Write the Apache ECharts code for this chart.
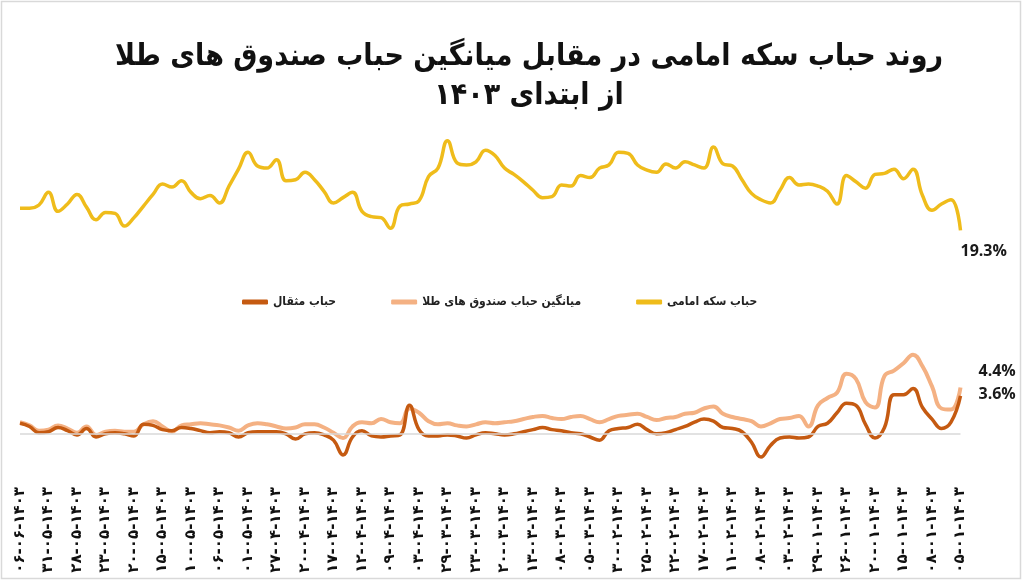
<!DOCTYPE html>
<html>
<head>
<meta charset="utf-8">
<script src="https://cdn.jsdelivr.net/npm/echarts@6/dist/echarts.min.js"></script>
<style>html,body{margin:0;padding:0;background:#fff}#c{width:1024px;height:582px}</style>
</head>
<body>
<div id="c"></div>
<script>
// Tick labels (every third trading day), left to right as displayed
const tickLabels = ['۰۶-۰۶-۱۴۰۳','۳۱-۰۵-۱۴۰۳','۲۸-۰۵-۱۴۰۳','۲۳-۰۵-۱۴۰۳','۲۰-۰۵-۱۴۰۳','۱۵-۰۵-۱۴۰۳','۱۰-۰۵-۱۴۰۳','۰۶-۰۵-۱۴۰۳','۰۱-۰۵-۱۴۰۳','۲۷-۰۴-۱۴۰۳','۲۰-۰۴-۱۴۰۳','۱۷-۰۴-۱۴۰۳','۱۲-۰۴-۱۴۰۳','۰۹-۰۴-۱۴۰۳','۰۳-۰۴-۱۴۰۳','۲۹-۰۳-۱۴۰۳','۲۳-۰۳-۱۴۰۳','۲۰-۰۳-۱۴۰۳','۱۳-۰۳-۱۴۰۳','۰۸-۰۳-۱۴۰۳','۰۵-۰۳-۱۴۰۳','۳۰-۰۲-۱۴۰۳','۲۵-۰۲-۱۴۰۳','۲۲-۰۲-۱۴۰۳','۱۷-۰۲-۱۴۰۳','۱۱-۰۲-۱۴۰۳','۰۸-۰۲-۱۴۰۳','۰۳-۰۲-۱۴۰۳','۲۹-۰۱-۱۴۰۳','۲۶-۰۱-۱۴۰۳','۲۰-۰۱-۱۴۰۳','۱۵-۰۱-۱۴۰۳','۰۸-۰۱-۱۴۰۳','۰۵-۰۱-۱۴۰۳'];

const seriesNames = ['حباب سکه امامی','میانگین حباب صندوق های طلا','حباب مثقال'];

// حباب سکه امامی (%)
const coinBubble = [21.4,21.4,21.7,22.9,21.1,21.8,22.7,21.5,20.3,21.0,20.9,19.7,20.5,21.6,22.7,23.7,23.4,24.0,22.9,22.3,22.6,21.9,23.5,25.1,26.7,25.4,25.2,26.0,24.0,24.1,24.8,24.1,23.0,21.9,22.4,22.9,21.1,20.6,20.5,19.5,21.6,21.8,22.1,24.4,25.2,27.8,25.7,25.5,25.8,26.9,26.4,25.2,24.6,23.9,23.1,22.4,22.5,23.6,23.5,24.5,24.3,25.2,25.5,26.7,26.6,25.5,25.0,24.8,25.6,25.2,25.8,25.5,25.2,27.2,25.6,25.4,24.1,22.8,22.2,21.9,23.1,24.3,23.6,23.7,23.5,23.0,21.8,24.5,23.9,23.3,24.6,24.7,25.1,24.2,25.1,22.6,21.2,21.8,22.2,19.3];

// میانگین حباب صندوق های طلا (%)
const fundBubble = [1.1,0.8,0.3,0.4,0.8,0.5,0.1,0.7,-0.1,0.2,0.3,0.2,0.2,0.9,1.2,0.7,0.2,0.8,0.9,1.0,0.9,0.8,0.6,0.3,0.8,1.0,0.9,0.7,0.5,0.6,0.9,0.9,0.6,0.1,-0.4,0.7,1.1,1.0,1.4,1.1,1.0,2.4,2.0,1.2,0.9,1.0,0.8,0.7,0.9,1.1,1.0,1.1,1.2,1.4,1.6,1.7,1.5,1.4,1.6,1.7,1.4,1.1,1.4,1.7,1.8,1.9,1.6,1.3,1.5,1.6,1.9,2.0,2.4,2.6,1.9,1.6,1.4,1.2,0.7,1.0,1.4,1.5,1.7,0.7,2.7,3.4,3.9,5.7,5.2,3.0,2.5,5.5,6.0,6.7,7.5,6.4,4.5,2.4,2.3,4.4];

// حباب مثقال (%)
const mesghalBubble = [1.0,0.7,0.1,0.2,0.6,0.3,-0.1,0.5,-0.3,0.0,0.1,0.0,-0.2,0.9,0.8,0.4,0.3,0.6,0.5,0.3,0.1,0.2,0.1,-0.3,0.1,0.2,0.2,0.2,0.0,-0.5,0.0,0.1,-0.1,-0.6,-2.0,-0.3,0.3,-0.2,-0.3,-0.2,-0.1,2.7,0.4,-0.2,-0.2,-0.1,-0.2,-0.4,-0.1,0.1,0.0,-0.1,0.0,0.2,0.4,0.6,0.4,0.3,0.1,0.0,-0.3,-0.6,0.3,0.5,0.6,0.9,0.4,0.0,0.1,0.4,0.7,1.1,1.4,1.2,0.6,0.5,0.2,-0.8,-2.2,-1.1,-0.4,-0.3,-0.4,-0.3,0.7,1.0,2.0,2.9,2.7,0.9,-0.4,0.6,3.7,3.7,4.3,2.5,1.4,0.5,1.1,3.6];

const colors = ['#EFBC1B','#F4B183','#C55A11'];
const labelEvery = 3;
const faFont = "'DejaVu Sans Condensed', 'DejaVu Sans'";

// category positions: one per data point, labelled every third point
const categories = coinBubble.map((_, i) => i % labelEvery === 0 ? tickLabels[i / labelEvery] : ('\u200b' + i));

const chart = echarts.init(document.getElementById('c'), null, {renderer: 'canvas'});
const labelStyle = {fontFamily: 'Open Sans', fontWeight: 'bold', fontSize: 16, color: '#1a1a1a', formatter: p => p.value + '%'};

chart.setOption({
  animation: false,
  backgroundColor: '#fff',
  textStyle: {fontFamily: faFont},
  graphic: [{type: 'rect', shape: {x: 1.5, y: 1.5, width: 1019, height: 577}, style: {fill: 'none', stroke: '#d9d9d9', lineWidth: 1.5}, silent: true}],
  title: {
    text: 'روند حباب سکه امامی در مقابل میانگین حباب صندوق های طلا\nاز ابتدای ۱۴۰۳',
    left: 524, top: 33, textAlign: 'center',
    textStyle: {fontFamily: faFont, fontWeight: 'bold', fontSize: 30, lineHeight: 39, color: '#111'}
  },
  legend: {
    data: [seriesNames[2], seriesNames[1], seriesNames[0]],
    left: 237, top: 291, itemGap: 55, itemWidth: 26, itemHeight: 5, icon: 'roundRect',
    textStyle: {fontFamily: faFont, fontWeight: 'bold', fontSize: 12, color: '#222'}
  },
  grid: {left: 20, right: 63.5, top: 117.5, bottom: 106, containLabel: false},
  xAxis: {
    type: 'category', boundaryGap: false, data: categories,
    axisLine: {show: false}, axisTick: {show: false}, splitLine: {show: false},
    axisLabel: {interval: labelEvery - 1, rotate: 90, margin: 11, fontFamily: 'DejaVu Sans', fontWeight: 'bold', fontSize: 15, color: '#111'}
  },
  yAxis: {type: 'value', min: -4, max: 30, show: false, splitLine: {show: false}},
  series: [
    {name: seriesNames[0], type: 'line', data: coinBubble, smooth: 0.45, symbol: 'none', z: 3,
     lineStyle: {color: colors[0], width: 3.5}, itemStyle: {color: colors[0]},
     endLabel: Object.assign({show: true, offset: [-8, 21]}, labelStyle)},
    {name: seriesNames[1], type: 'line', data: fundBubble, smooth: 0.45, symbol: 'none', z: 2,
     lineStyle: {color: colors[1], width: 4}, itemStyle: {color: colors[1]},
     endLabel: Object.assign({show: true, offset: [10, -16]}, labelStyle),
     markLine: {silent: true, symbol: 'none', label: {show: false}, lineStyle: {color: '#d9d9d9', width: 1.5, type: 'solid'}, data: [{yAxis: 0}]}},
    {name: seriesNames[2], type: 'line', data: mesghalBubble, smooth: 0.45, symbol: 'none', z: 4,
     lineStyle: {color: colors[2], width: 3.5}, itemStyle: {color: colors[2]},
     endLabel: Object.assign({show: true, offset: [10, -1]}, labelStyle)}
  ]
});
</script>
</body>
</html>
